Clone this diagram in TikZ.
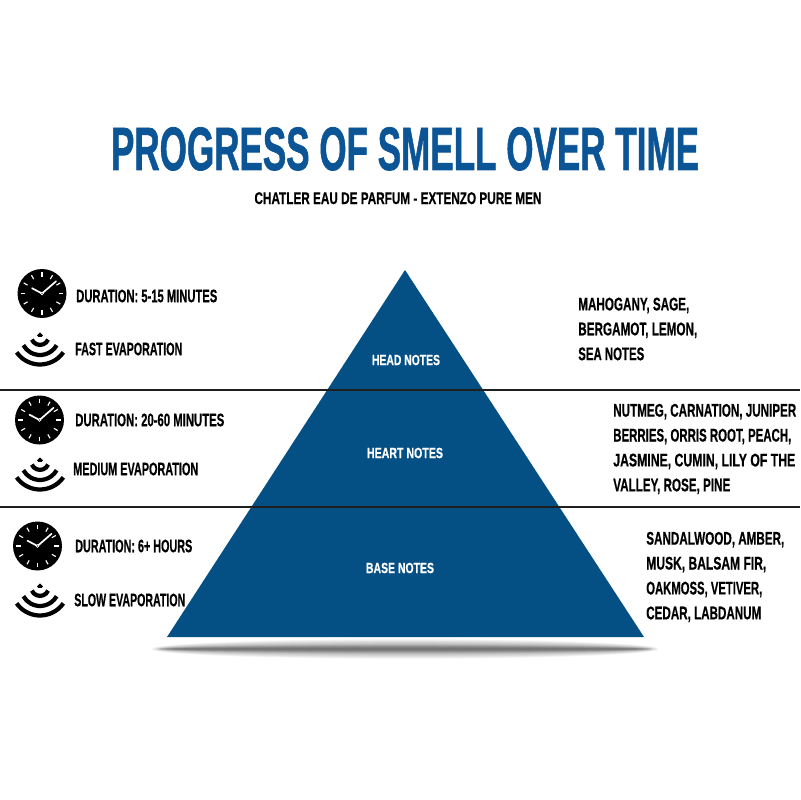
\documentclass[tikz,border=0pt]{standalone}
\usepackage{fontspec}
\usepackage{graphicx}
\setmainfont{Liberation Sans}
\newfontfamily\heavy[UprightFont=* Bold,FakeBold=1.3]{Liberation Sans}
\newfontfamily\heavyS[UprightFont=* Bold,FakeBold=0.6]{Liberation Sans}
\usetikzlibrary{calc}
\definecolor{pblue}{HTML}{044F84}
\definecolor{tblue}{HTML}{0B5596}
\newlength\pxlen
\setlength\pxlen{0.025cm}
\newcommand{\fitw}[2]{\resizebox{#1\pxlen}{\height}{#2}}
\tikzset{
 lbl/.style={font=\fontsize{12.9}{15}\selectfont\heavyS,anchor=west,inner sep=0pt,align=left},
 notes/.style={font=\fontsize{13}{17.7}\selectfont\heavyS,anchor=west,inner sep=0pt,align=left},
 tier/.style={font=\fontsize{10.5}{13}\selectfont\heavyS,text=white,inner sep=0pt},
 rule/.style={line width=1pt,black!88}
}
\newcommand{\clockicon}[3]{%
 \fill[black] (#1,#2) circle (#3);
 \foreach \a in {0,30,...,330}{\draw[white,line width=0.8pt] ($(#1,#2)+(\a:{0.68*#3})$) -- ($(#1,#2)+(\a:{0.86*#3})$);}
 \draw[white,line width=1.2pt,line cap=round] (#1,#2) -- ++(-41:{0.76*#3});
 \draw[white,line width=1.2pt,line cap=round] (#1,#2) -- ++(208:{0.46*#3});
 \fill[white] (#1,#2) circle (1.8);
 \fill[black] (#1,#2) circle (0.7);
}
\newcommand{\waveicon}[2]{%
 \begin{scope}[shift={(#1,#2)}]
 \fill[black] (0,-2.5) -- (3,0.3) -- (1.8,1.8) -- (-1.8,1.8) -- (-3,0.3) -- cycle;
 \draw[black,line width=3pt] (24:8.9)++(0,1) arc (24:156:8.9);
 \draw[black,line width=3pt] (29:19)++(0,1) arc (29:151:19);
 \draw[black,line width=3pt] (35:28.5)++(0,1) arc (35:145:28.5);
 \end{scope}
}
\begin{document}
\begin{tikzpicture}[x=0.025cm,y=-0.025cm]
\useasboundingbox (0,0) rectangle (800,800);
\fill[white] (0,0) rectangle (800,800);
% shadow
\foreach \i in {0,...,11}{
 \fill[black,opacity=0.018] (405,649) ellipse ({254-\i*0.8} and {10-\i*0.42});
}
\foreach \i in {0,...,11}{
 \fill[black,opacity=0.04] (405,649) ellipse ({248-\i*1.5} and {4.8-\i*0.36});
}
\fill[pblue] (405,270) -- (644,637) -- (167,637) -- cycle;
\coordinate (la) at (0,390);\coordinate (lb) at (800,390);
\coordinate (lc) at (0,507);\coordinate (ld) at (800,507);
\draw[rule] (la) -- (lb);
\draw[rule] (lc) -- (ld);
\node[font=\fontsize{43.5}{50}\selectfont\heavy,text=tblue,inner sep=0pt,anchor=base] (title) at (405,170) {\fitw{588}{PROGRESS OF SMELL OVER TIME}};
\node[font=\fontsize{12}{15}\selectfont\heavyS,inner sep=0pt,anchor=base] (sub) at (398,204) {\fitw{287}{CHATLER EAU DE PARFUM - EXTENZO PURE MEN}};
\node[tier] (head) at (406,360) {\fitw{68}{HEAD NOTES}};
\node[tier] (heart) at (405,453) {\fitw{76}{HEART NOTES}};
\node[tier] (base) at (400,568) {\fitw{68}{BASE NOTES}};
\node[lbl] (d1) at (76,296) {\fitw{141}{DURATION: 5-15 MINUTES}};
\node[lbl] (e1) at (75,349) {\fitw{107}{FAST EVAPORATION}};
\node[lbl] (d2) at (75,420) {\fitw{149}{DURATION: 20-60 MINUTES}};
\node[lbl] (e2) at (73,469) {\fitw{125}{MEDIUM EVAPORATION}};
\node[lbl] (d3) at (75,546) {\fitw{117}{DURATION: 6+ HOURS}};
\node[lbl] (e3) at (74,600) {\fitw{111}{SLOW EVAPORATION}};
\node[notes] (n1) at (578,329) {\fitw{111}{MAHOGANY, SAGE,}\\\fitw{119}{BERGAMOT, LEMON,}\\\fitw{66}{SEA NOTES}};
\node[notes] (n2) at (613,449) {\fitw{183}{NUTMEG, CARNATION, JUNIPER}\\\fitw{178}{BERRIES, ORRIS ROOT, PEACH,}\\\fitw{182}{JASMINE, CUMIN, LILY OF THE}\\\fitw{117}{VALLEY, ROSE, PINE}};
\node[notes] (n3) at (646,577) {\fitw{138}{SANDALWOOD, AMBER,}\\\fitw{120}{MUSK, BALSAM FIR,}\\\fitw{116}{OAKMOSS, VETIVER,}\\\fitw{115}{CEDAR, LABDANUM}};
\clockicon{42}{293.5}{24.5}
\clockicon{39.5}{420}{24.5}
\clockicon{37.5}{546}{24.5}
\waveicon{40}{335}
\waveicon{40}{460}
\waveicon{40}{586}
\end{tikzpicture}
\end{document}
